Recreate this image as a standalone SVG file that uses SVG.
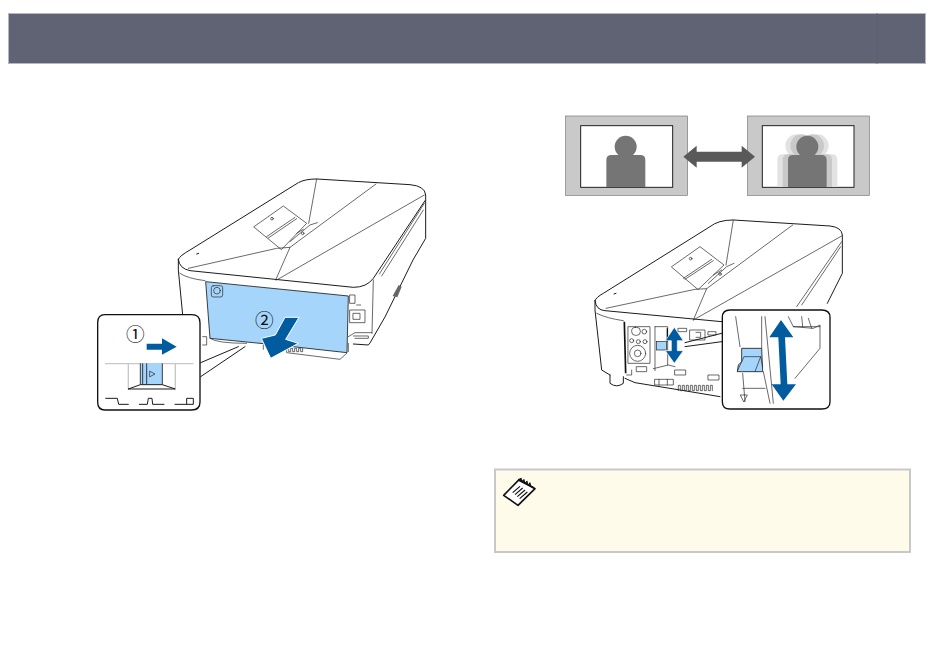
<svg xmlns="http://www.w3.org/2000/svg" width="950" height="660" viewBox="0 0 950 660">
<style>
.l{fill:none;stroke:#1a1a1a;stroke-width:3;stroke-linejoin:round;stroke-linecap:round}
.t{fill:none;stroke:#2a2a2a;stroke-width:2.100;stroke-linejoin:round;stroke-linecap:round}
.w{fill:#fff;stroke:#111;stroke-width:4;stroke-linejoin:round}
.b{fill:#a6d5fb}
.a{fill:#005c9f}
.p{fill:#757575}
.n{font-family:"Noto Sans CJK JP","DejaVu Sans",sans-serif;font-size:56px;fill:#111}
</style>
<g id="header">
<rect x="8.500" y="13.500" width="917" height="50" fill="#606373" stroke="#b4b6c0" stroke-width="1"/>
<path d="M877 14V63" stroke="#5e6170" stroke-width="1"/>
<path d="M877 13v1M877 63V64" stroke="#777" stroke-width="1"/>
</g>

<g id="projector-left" transform="translate(90,170) scale(.33333)">
<path d="M265 268Q268 258 300 240L625 38Q645 27 680 27L960 44Q1005 48 1007 75V205L969 270L885 441L840 519L835 525L775 520L770 550L750 568L590 550L520 540L360 512L350 500L278 440L265 300Z" fill="#fff" stroke="none"/>
<path class="l" d="M265 268Q268 258 300 240L625 38Q645 27 680 27L960 44Q1005 48 1007 75V205L969 270L885 441L840 519L835 525L790 522"/>
<path class="l" d="M265 268Q268 296 300 302L790 352Q830 352 850 325L1005 92"/>
<path class="l" d="M265 268V300L278 435"/>
<path class="t" d="M270 310Q290 325 345 332"/>
<path class="t" d="M295 295L560 235L600 232L557 330"/>
<path class="t" d="M600 232L858 42"/>
<path class="t" d="M560 330L1003 75"/>
<path class="t" d="M680 27L656 160"/>
<path class="t" d="M492 170L580 108L650 160L575 238ZM530 200L615 142M535 204L620 146"/>
<path class="t" d="M600 215L660 165L682 158M620 190L640 178"/>
<circle class="t" cx="546" cy="146" r="4"/><circle class="t" cx="638" cy="190" r="4"/>
<path class="l" d="M320 252L326 250"/>
<path class="t" d="M1003 100L868 312M1000 120L875 318M850 330L846 490"/>
<path class="t" d="M780 375H795V400H780ZM780 420H825V458H780ZM790 430H810V448H790ZM800 405h12M775 500L795 488H845M790 498H835V505H795"/>
<path d="M908 378L926 345L935 350L922 382Z" fill="#666"/>
<path class="t" d="M360 505Q380 520 470 520M338 500H350V525H338"/>
<path class="t" d="M520 525V538M770 550L750 568L590 548M775 520V545"/>
<path class="t" d="M590 545V535h6v10h6v-10h6v10h6v-10h6v10h6v-10h6v10h6v-10"/>
<path d="M347 335L775 378L771 548L590 528L360 505Z" class="b" stroke="#1a1a1a" stroke-width="2.500"/>
<rect class="t" x="364" y="347" width="34" height="34" rx="6"/>
<circle class="t" cx="381" cy="362" r="10"/>
<path d="M627 442L585 442L556 495L514 505L542 565L625 520L587 508Z" class="a" stroke="#fff" stroke-width="3" stroke-linejoin="miter"/>
<text class="n" x="523" y="470" text-anchor="middle">②</text>
<path class="l" d="M332 578L445 530M332 620L465 530"/>
<path class="w" d="M45 434H305Q330 434 330 458V696Q330 720 305 720H45Q23 720 23 696V458Q23 434 45 434Z"/>
<text class="n" x="136" y="513" text-anchor="middle">①</text>
<path class="a" d="M170 521H216V505L260 530L216 554V539H170Z"/>
<path d="M45 581H310M115 581V655M256 581V655" fill="none" stroke="#c8c8c8" stroke-width="4"/>
<rect class="b" x="151" y="580" width="66" height="63"/>
<path d="M151 580V644M158 580V644M170 580V644M217 580V644" stroke="#1a1a1a" stroke-width="2.500" fill="none"/>
<path class="t" d="M180 604L195 612L180 620Z"/>
<path class="l" d="M115 657L151 644H217L256 657H115"/>
<path class="l" d="M47 685H82L86 703H115M148 703H172L175 685H186L188 703H222M255 703H290V685H310V703H290"/>
</g>

<g id="picture-sharp" transform="translate(560,105) scale(.33333)">
<rect x="17" y="33" width="366" height="238" fill="#c9c9c9" stroke="#777" stroke-width="2"/>
<rect x="62" y="62" width="276" height="185" fill="#fff" stroke="#222" stroke-width="3"/>
<circle class="p" cx="197" cy="125" r="33"/>
<path class="p" d="M139 246V165Q139 150 154 150H241Q256 150 256 165V246Z"/>
</g>
<g id="picture-blurred" transform="translate(560,105) scale(.33333)">
<rect x="563" y="33" width="365" height="238" fill="#c9c9c9" stroke="#777" stroke-width="2"/>
<rect x="607" y="62" width="275" height="185" fill="#fff" stroke="#222" stroke-width="3"/>
<g fill="#e2e2e2"><circle cx="710" cy="122" r="34"/><circle cx="772" cy="122" r="34"/><path d="M652 246V165Q652 148 668 148H816Q832 148 832 165V246Z"/></g>
<g fill="#c9c9c9"><circle cx="725" cy="122" r="34"/><circle cx="758" cy="122" r="34"/><path d="M668 246V165Q668 148 684 148H800Q816 148 816 165V246Z"/></g>
<circle class="p" cx="742" cy="125" r="33"/>
<path class="p" d="M684 246V165Q684 150 699 150H785Q800 150 800 165V246Z"/>
</g>
<g id="connectors">
<path transform="translate(560,105) scale(.33333)" d="M370 155L410 122V140H545V122L585 155L545 188V170H410V188Z" fill="#595959"/>
</g>

<g id="projector-right" transform="translate(590,210) scale(.33333)">
<path d="M15 272L360 50Q385 30 430 30L720 48Q755 52 757 75V190L710 285H400V590L300 560L115 520L100 505L60 490L20 400Z" fill="#fff"/>
<path class="l" d="M15 272Q18 262 40 250L360 50Q385 30 430 30L720 48Q755 52 757 75V190L712 280"/>
<path class="l" d="M15 272Q18 300 45 302L395 335"/>
<path class="l" d="M15 272V300L35 480L60 495"/>
<path class="t" d="M20 310Q50 325 100 332"/>
<path class="t" d="M48 295L315 238L350 236L310 330"/>
<path class="t" d="M350 236L608 45M310 330L755 78M430 30L408 165"/>
<path class="t" d="M245 170L330 110L402 165L325 238ZM280 205L365 148M285 208L370 152"/>
<path class="t" d="M355 220L410 170L432 160M370 195L395 180"/>
<circle class="t" cx="302" cy="146" r="4"/><circle class="t" cx="390" cy="192" r="4"/>
<path class="l" d="M72 252L78 250"/>
<path class="t" d="M755 95L620 290M752 110L635 285"/>
<path d="M103 335L107 490" fill="none" stroke="#111" stroke-width="5"/>
<rect class="t" x="115" y="350" width="65" height="110" fill="#fff"/>
<rect class="t" x="125" y="352" width="26" height="24" rx="11"/><circle class="t" cx="163" cy="365" r="7"/>
<circle class="t" cx="125" cy="392" r="6"/><circle class="t" cx="145" cy="395" r="6"/><circle class="t" cx="165" cy="395" r="6"/>
<circle class="t" cx="143" cy="430" r="24"/><circle class="t" cx="143" cy="430" r="10"/>
<path class="t" d="M195 350V482M195 350H233V465M190 476L235 465L255 470"/>
<path d="M232 355L232 395" stroke="#111" stroke-width="4"/>
<path class="t" d="M265 355H290V365H265ZM300 360H345V390H300ZM355 365H378V375H355ZM318 367H332V382H318"/>
<rect class="b" x="200" y="395" width="30" height="25" stroke="#1a1a1a" stroke-width="2"/>
<path class="t" d="M140 470H170V485H140ZM125 480V495H110M255 480H287V495H255ZM355 495H387V510H355ZM195 508H250V525H195ZM207 508V525M232 508V525"/>
<path class="l" d="M105 505L135 518L270 540L390 560"/>
<path class="t" d="M265 542V526h6v16h6v-16h6v16h6v-16h6v16h6v-16h6v16h6v-16h6v16h6v-16h6v16h6v-16h6v16h6v-16h6v16h6v-16h6v16"/>
<path class="l" d="M60 495V520Q80 535 100 520V500"/>
<path class="a" d="M253 352L280 392H262V422H280L253 460L226 422H244V392H226Z" stroke="#fff" stroke-width="2"/>
<path class="l" d="M285 398L395 370M285 410L395 395"/>
<path class="w" d="M420 300H695Q720 300 720 322V575Q720 597 695 597H420Q397 597 397 575V322Q397 300 420 300Z"/>
<path class="t" d="M437 320L450 410M458 490L465 575M515 320V415M520 485L540 580M525 320L550 580"/>
<path class="t" d="M595 320L610 350L670 355L690 345V415L615 505M610 350H690M635 320L638 350M655 325L665 355"/>
<path class="t" d="M452 555H472L462 575ZM458 535H525"/>
<path class="b" d="M455 415H515L518 485H442L445 465L455 455Z" stroke="#1a1a1a" stroke-width="2.500"/>
<path class="t" d="M442 483L462 440H512L495 485M512 440L518 470"/>
<path class="a" d="M573 330L610 382H585L592 523H618L580 572L545 523H572L565 382H538Z"/>
</g>

<g id="note">
<rect x="495" y="469.500" width="415" height="82.500" fill="#fffbea" stroke="#c8c8c8" stroke-width="2"/>
<g transform="translate(490,462) scale(.33333)">
<path d="M41 100L88 52L135 80L84 130Z" fill="#fff" stroke="#111" stroke-width="5" stroke-linejoin="round"/>
<path d="M85 54L132 78M92 48L94 58M101 52L103 62M110 57L112 67M119 62L121 72" fill="none" stroke="#111" stroke-width="5"/>
<path d="M68 92L90 73M75 98L98 78M82 104L105 84M89 110L112 90" fill="none" stroke="#111" stroke-width="3.500"/>
</g>
</g>
</svg>
